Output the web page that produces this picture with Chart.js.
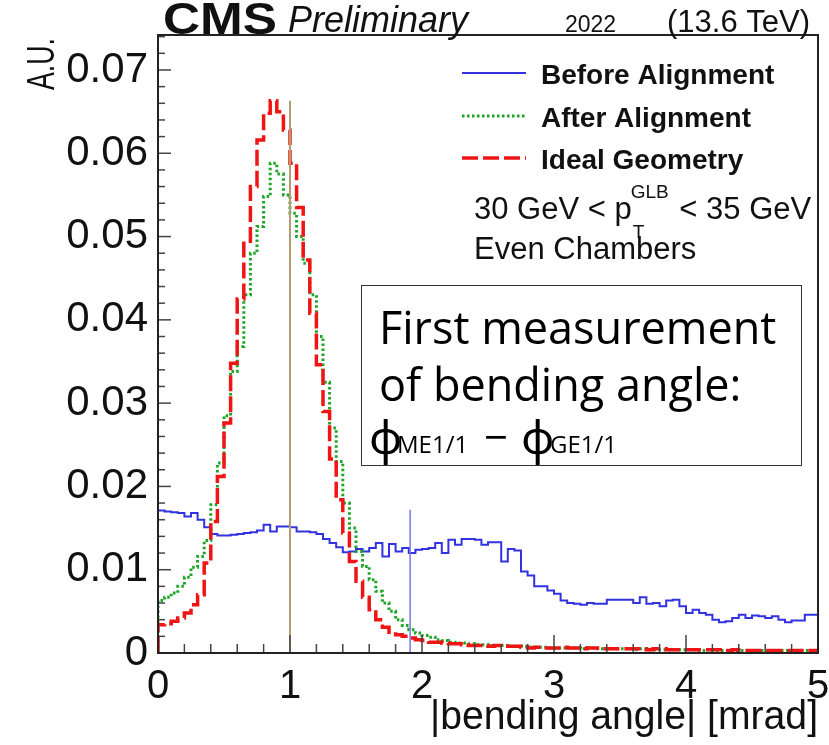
<!DOCTYPE html>
<html>
<head>
<meta charset="utf-8">
<script src="https://cdn.jsdelivr.net/npm/chart.js@4.4.1/dist/chart.umd.min.js"></script>
<style>
  html, body { margin: 0; padding: 0; background: #fff; }
</style>
</head>
<body>
<canvas id="bendingChart" width="829" height="745"></canvas>
<script>
// histogram binning: 100 bins of 0.05 mrad from 0 to 5
const BIN_WIDTH = 0.05;
const xTickLabels = ['0', '1', '2', '3', '4', '5'];
const yTickLabels = ['0', '0.01', '0.02', '0.03', '0.04', '0.05', '0.06', '0.07'];

// A.U. per bin
const beforeAlignment = [
  0.0171, 0.0171, 0.0170, 0.0169, 0.0168, 0.0164, 0.0168, 0.0160, 0.0151, 0.0143,
  0.0141, 0.0141, 0.0142, 0.0143, 0.0144, 0.0145, 0.0147, 0.0154, 0.0146, 0.0152,
  0.0152, 0.0151, 0.0146, 0.0146, 0.0145, 0.0143, 0.0137, 0.0132, 0.0127, 0.0121,
  0.0122, 0.0125, 0.0122, 0.0126, 0.0132, 0.0116, 0.0131, 0.0122, 0.0126, 0.0120,
  0.0124, 0.0125, 0.0126, 0.0132, 0.0120, 0.0136, 0.0130, 0.0137, 0.0137, 0.0136,
  0.0130, 0.0133, 0.0133, 0.0110, 0.0125, 0.0123, 0.0098, 0.0093, 0.0080, 0.0080,
  0.0075, 0.0071, 0.0063, 0.0060, 0.0059, 0.0058, 0.0060, 0.0059, 0.0059, 0.0064,
  0.0064, 0.0064, 0.0064, 0.0060, 0.0067, 0.0059, 0.0060, 0.0056, 0.0063, 0.0064,
  0.0056, 0.0048, 0.0052, 0.0048, 0.0046, 0.0040, 0.0037, 0.0038, 0.0042, 0.0046,
  0.0042, 0.0045, 0.0044, 0.0042, 0.0044, 0.0040, 0.0037, 0.0039, 0.0039, 0.0046
];
const afterAlignment = [
  0.0055, 0.0063, 0.0067, 0.0072, 0.0080, 0.0091, 0.0103, 0.0116, 0.0135, 0.0178,
  0.0228, 0.0285, 0.0338, 0.0368, 0.0430, 0.0480, 0.0512, 0.0548, 0.0588, 0.0575,
  0.0550, 0.0528, 0.0500, 0.0468, 0.0430, 0.0380, 0.0325, 0.0270, 0.0230, 0.0180,
  0.0150, 0.0122, 0.0104, 0.0088, 0.0074, 0.0060, 0.0050, 0.0040, 0.0033, 0.0028,
  0.0024, 0.0021, 0.0019, 0.0016, 0.0015, 0.0013, 0.0012, 0.0012, 0.0011, 0.0010,
  0.0010, 0.0009, 0.0009, 0.0009, 0.0008, 0.0008, 0.0008, 0.0007, 0.0007, 0.0007,
  0.0006, 0.0006, 0.0006, 0.0006, 0.0006, 0.0005, 0.0006, 0.0005, 0.0005, 0.0005,
  0.0005, 0.0005, 0.0005, 0.0004, 0.0005, 0.0004, 0.0004, 0.0004, 0.0004, 0.0004,
  0.0004, 0.0004, 0.0004, 0.0003, 0.0004, 0.0003, 0.0003, 0.0003, 0.0003, 0.0003,
  0.0003, 0.0003, 0.0003, 0.0003, 0.0003, 0.0003, 0.0003, 0.0003, 0.0003, 0.0003
];
const idealGeometry = [
  0.0035, 0.0034, 0.0035, 0.0038, 0.0042, 0.0048, 0.0058, 0.0070, 0.0108, 0.0158,
  0.0212, 0.0276, 0.0348, 0.0425, 0.0492, 0.0560, 0.0616, 0.0648, 0.0663, 0.0650,
  0.0628, 0.0588, 0.0535, 0.0472, 0.0408, 0.0346, 0.0290, 0.0233, 0.0184, 0.0144,
  0.0110, 0.0086, 0.0067, 0.0052, 0.0040, 0.0031, 0.0025, 0.0022, 0.0020, 0.0018,
  0.0016, 0.0015, 0.0013, 0.0013, 0.0012, 0.0011, 0.0011, 0.0010, 0.0009, 0.0009,
  0.0009, 0.0008, 0.0009, 0.0008, 0.0008, 0.0008, 0.0007, 0.0006, 0.0007, 0.0006,
  0.0006, 0.0006, 0.0007, 0.0006, 0.0006, 0.0005, 0.0006, 0.0006, 0.0005, 0.0005,
  0.0005, 0.0005, 0.0005, 0.0005, 0.0005, 0.0004, 0.0005, 0.0005, 0.0004, 0.0004,
  0.0004, 0.0004, 0.0004, 0.0004, 0.0004, 0.0004, 0.0004, 0.0003, 0.0004, 0.0003,
  0.0003, 0.0003, 0.0003, 0.0003, 0.0003, 0.0003, 0.0003, 0.0003, 0.0003, 0.0003
];

// the two vertical marker lines: [x, top]
const peakMarker = [1.0, 0.0663];
const beforeMarker = [1.91, 0.0172];

const Y_MAX = 0.0742;
const rootFont = '"Liberation Sans", Arial, sans-serif';
const boxFont = '"Open Sans", "Noto Sans", sans-serif';

const BLUE = 'rgb(50,50,225)';
const GREEN = 'rgb(30,165,40)';
const RED = 'rgb(240,20,20)';

// turn bin contents into step points, closed down to zero at both ends
function histPoints(values) {
  const pts = [{ x: 0, y: 0 }];
  values.forEach((v, i) => pts.push({ x: i * BIN_WIDTH, y: v }));
  const end = values.length * BIN_WIDTH;
  pts.push({ x: end, y: values[values.length - 1] });
  pts.push({ x: end, y: 0 });
  return pts;
}

function markerPoints(m) {
  return [{ x: m[0], y: 0 }, { x: m[0], y: m[1] }];
}

function line(ctx, x1, y1, x2, y2) {
  ctx.beginPath();
  ctx.moveTo(x1, y1);
  ctx.lineTo(x2, y2);
  ctx.stroke();
}

// draws left-aligned text squeezed or stretched to a given width (ROOT text is not quite Arial)
function fitText(ctx, text, x, y, width) {
  const w = ctx.measureText(text).width;
  ctx.save();
  ctx.textAlign = 'left';
  ctx.translate(x, y);
  ctx.scale(width / w, 1);
  ctx.fillText(text, 0, 0);
  ctx.restore();
}

// frame and inward ticks, like ROOT
const framePlugin = {
  id: 'rootFrame',
  afterDatasetsDraw(chart) {
    const { ctx, chartArea: a, scales: { x, y } } = chart;
    ctx.save();
    ctx.strokeStyle = '#444';
    ctx.lineWidth = 1.5;
    for (let k = 0; k <= 25; k++) {
      const px = x.getPixelForValue(k * 0.2);
      line(ctx, px, a.bottom, px, a.bottom - (k % 5 === 0 ? 18 : 9));
    }
    for (let k = 0; k * 0.002 <= Y_MAX; k++) {
      const py = y.getPixelForValue(k * 0.002);
      line(ctx, a.left, py, a.left + (k % 5 === 0 ? 13 : 7), py);
    }
    ctx.strokeStyle = '#222';
    ctx.lineWidth = 2;
    ctx.strokeRect(a.left, a.top, a.right - a.left, a.bottom - a.top);
    ctx.restore();
  }
};

// titles, legend and the annotation box
const textPlugin = {
  id: 'rootText',
  afterDraw(chart) {
    const { ctx, chartArea: a } = chart;
    ctx.save();
    ctx.fillStyle = '#111';
    ctx.textBaseline = 'alphabetic';
    ctx.textAlign = 'left';

    // header
    ctx.font = 'bold 45px ' + rootFont;
    fitText(ctx, 'CMS', 163, 34, 114);
    ctx.font = 'italic 36px ' + rootFont;
    ctx.fillText('Preliminary', 288, 32);
    ctx.font = '23px ' + rootFont;
    ctx.fillText('2022', 565, 32);
    ctx.font = '31px ' + rootFont;
    ctx.textAlign = 'right';
    ctx.fillText('(13.6 TeV)', 810, 32);
    ctx.textAlign = 'left';

    // axis titles
    ctx.font = '40px ' + rootFont;
    fitText(ctx, '|bending angle| [mrad]', a.right - 388, 729, 388);
    ctx.save();
    ctx.translate(54, 90);
    ctx.rotate(-Math.PI / 2);
    ctx.font = '39px ' + rootFont;
    fitText(ctx, 'A.U.', 0, 0, 52);
    ctx.restore();

    // legend
    const rows = [
      { label: 'Before Alignment', color: BLUE, width: 2, dash: [], y: 73 },
      { label: 'After Alignment', color: GREEN, width: 3, dash: [2.5, 2.5], y: 116 },
      { label: 'Ideal Geometry', color: RED, width: 3.5, dash: [16, 5], y: 158 }
    ];
    rows.forEach(r => {
      ctx.save();
      ctx.strokeStyle = r.color;
      ctx.lineWidth = r.width;
      ctx.setLineDash(r.dash);
      line(ctx, 462, r.y, 526, r.y);
      ctx.restore();
      ctx.font = 'bold 28px ' + rootFont;
      ctx.fillText(r.label, 541, r.y + 11);
    });

    ctx.font = '31px ' + rootFont;
    let px = 474;
    ctx.fillText('30 GeV < p', px, 219);
    px += ctx.measureText('30 GeV < p').width - 1;
    ctx.font = '19px ' + rootFont;
    ctx.fillText('GLB', px, 198);
    ctx.fillText('T', px + 2, 238);
    px += ctx.measureText('GLB').width + 2;
    ctx.font = '31px ' + rootFont;
    ctx.fillText(' < 35 GeV', px, 219);
    ctx.fillText('Even Chambers', 474, 259);

    // annotation box
    ctx.fillStyle = '#fff';
    ctx.fillRect(361, 285, 440, 180);
    ctx.strokeStyle = '#333';
    ctx.lineWidth = 1;
    ctx.strokeRect(361.5, 285.5, 440, 180);
    ctx.fillStyle = '#000';
    ctx.font = '45px ' + boxFont;
    ctx.fillText('First measurement', 379, 344);
    ctx.fillText('of bending angle:', 379, 401);
    ctx.font = '46px ' + boxFont;
    ctx.fillText('\u03d5', 369, 454);
    ctx.fillText('\u03d5', 521, 454);
    ctx.font = '42px ' + boxFont;
    ctx.fillText('\u2212', 484, 452);
    ctx.font = '24px ' + boxFont;
    ctx.fillText('ME1/1', 397, 453);
    ctx.fillText('GE1/1', 550, 453);
    ctx.restore();
  }
};

new Chart(document.getElementById('bendingChart'), {
  type: 'line',
  data: {
    datasets: [
      {
        label: 'peak marker',
        data: markerPoints(peakMarker),
        borderColor: 'rgb(180,155,115)',
        borderWidth: 2,
        order: 0
      },
      {
        label: 'before marker',
        data: markerPoints(beforeMarker),
        borderColor: 'rgb(120,120,235)',
        borderWidth: 1.5,
        order: 1
      },
      {
        label: 'Ideal Geometry',
        data: histPoints(idealGeometry),
        borderColor: RED,
        borderWidth: 3.5,
        borderDash: [16, 5],
        stepped: 'after',
        order: 2
      },
      {
        label: 'After Alignment',
        data: histPoints(afterAlignment),
        borderColor: GREEN,
        borderWidth: 3,
        borderDash: [2.5, 2.5],
        stepped: 'after',
        order: 3
      },
      {
        label: 'Before Alignment',
        data: histPoints(beforeAlignment),
        borderColor: BLUE,
        borderWidth: 2,
        stepped: 'after',
        order: 4
      }
    ]
  },
  options: {
    responsive: false,
    animation: false,
    layout: { padding: { left: 0, right: 11, top: 35, bottom: 0 } },
    elements: { point: { radius: 0 }, line: { tension: 0, fill: false } },
    plugins: { legend: { display: false }, tooltip: { enabled: false } },
    scales: {
      x: {
        type: 'linear',
        min: 0,
        max: 5,
        grid: { display: false, drawTicks: false },
        border: { display: false },
        afterFit: s => { s.height = 92; s.paddingLeft = 0; s.paddingRight = 0; },
        afterBuildTicks: s => { s.ticks = xTickLabels.map(l => ({ value: Number(l) })); },
        ticks: {
          autoSkip: false,
          maxRotation: 0,
          padding: 10,
          color: '#111',
          font: { family: rootFont, size: 40 },
          callback: (v, i) => xTickLabels[i]
        }
      },
      y: {
        type: 'linear',
        min: 0,
        max: Y_MAX,
        grid: { display: false, drawTicks: false },
        border: { display: false },
        afterFit: s => { s.width = 158; s.paddingTop = 0; s.paddingBottom = 0; },
        afterBuildTicks: s => { s.ticks = yTickLabels.map(l => ({ value: Number(l) })); },
        ticks: {
          autoSkip: false,
          padding: 10,
          color: '#111',
          font: { family: rootFont, size: 42 },
          callback: (v, i) => yTickLabels[i]
        }
      }
    }
  },
  plugins: [framePlugin, textPlugin]
});
</script>
</body>
</html>
